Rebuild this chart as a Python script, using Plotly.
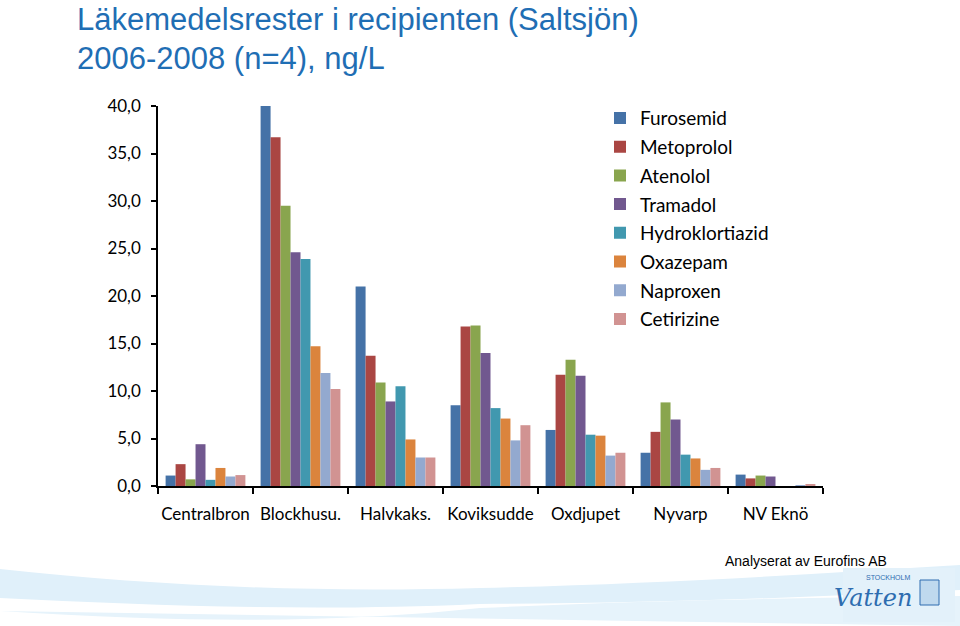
import plotly.graph_objects as go

categories = ["Centralbron", "Blockhusu.", "Halvkaks.", "Koviksudde", "Oxdjupet", "Nyvarp", "NV Eknö"]
series_names = ["Furosemid", "Metoprolol", "Atenolol", "Tramadol",
                "Hydroklortiazid", "Oxazepam", "Naproxen", "Cetirizine"]
furosemid = [1.1, 40.0, 21.0, 8.5, 5.9, 3.5, 1.2]
metoprolol = [2.3, 36.7, 13.7, 16.8, 11.7, 5.7, 0.8]
atenolol = [0.7, 29.5, 10.9, 16.9, 13.3, 8.8, 1.1]
tramadol = [4.4, 24.6, 8.9, 14.0, 11.6, 7.0, 1.0]
hydroklortiazid = [0.65, 23.9, 10.5, 8.2, 5.4, 3.3, 0.0]
oxazepam = [1.9, 14.7, 4.9, 7.1, 5.3, 2.9, 0.0]
naproxen = [1.0, 11.9, 3.0, 4.8, 3.2, 1.7, 0.1]
cetirizine = [1.15, 10.2, 3.0, 6.4, 3.5, 1.9, 0.2]
values = [furosemid, metoprolol, atenolol, tramadol, hydroklortiazid, oxazepam, naproxen, cetirizine]
colors = ["#4572A7", "#AA4643", "#89A54E", "#71588F", "#4198AF", "#DB843D", "#93A9CF", "#D19392"]
y_ticks = [0, 5, 10, 15, 20, 25, 30, 35, 40]

# page geometry (pixels) for decorations only
L, R, T, B = 158, 823, 106, 486


def px(x):
    return (x - L) / (R - L)


def py(y):
    return (B - y) / (B - T)


def path(points_cmds):
    out = []
    for cmd, pts in points_cmds:
        out.append(cmd + " " + " ".join(f"{px(x):.4f},{py(y):.4f}" for x, y in pts))
    return " ".join(out) + " Z"


fig = go.Figure()
for name, vals, col in zip(series_names, values, colors):
    fig.add_trace(go.Bar(name=name, x=categories, y=vals, marker_color=col,
                         marker_line_width=0, legendgroup=name))

band1 = path([("M", [(0, 569)]),
              ("C", [(150, 585), (300, 593), (480, 588)]),
              ("C", [(650, 584), (800, 575), (960, 565)]),
              ("L", [(960, 590)]),
              ("C", [(800, 598), (650, 603), (480, 604)]),
              ("C", [(300, 612), (150, 605), (0, 598)])])
band2 = path([("M", [(0, 611)]),
              ("C", [(200, 624), (350, 622), (480, 608)]),
              ("C", [(650, 600), (800, 598), (960, 596)]),
              ("L", [(960, 626), (0, 626)])])

fig.update_layout(
    width=960, height=626,
    margin=dict(l=L, r=960 - R, t=T, b=626 - B),
    paper_bgcolor="white", plot_bgcolor="white",
    barmode="group", bargap=0.16, bargroupgap=0,
    separators=", ",
    font=dict(family="Lato, Carlito, sans-serif", size=17, color="black"),
    legend=dict(x=px(600), y=1.018, xanchor="left", yanchor="top",
                font=dict(size=19, color="black"), traceorder="grouped",
                tracegroupgap=1, bgcolor="rgba(0,0,0,0)"),
    xaxis=dict(showline=True, linecolor="black", linewidth=1.5, ticks="outside",
               tickson="boundaries", ticklen=6, tickcolor="black", tickwidth=1.5,
               ticklabelstandoff=12, tickfont=dict(size=17), tickangle=0, showgrid=False),
    yaxis=dict(range=[0, 40], tickvals=y_ticks, tickformat=".1f", showline=True,
               linecolor="black", linewidth=1.5, ticks="outside", ticklen=5,
               tickcolor="black", tickwidth=1.5, showgrid=False, zeroline=False,
               tickfont=dict(size=17), ticklabelstandoff=7),
    shapes=[
        dict(type="path", xref="paper", yref="paper", path=band1,
             fillcolor="#E0F0FA", line_width=0, layer="below"),
        dict(type="path", xref="paper", yref="paper", path=band2,
             fillcolor="#E6F3FB", line_width=0, layer="below"),
        dict(type="rect", xref="paper", yref="paper", x0=px(843), x1=px(955),
             y0=py(568), y1=py(622), fillcolor="#E3F1FA", line_width=0, layer="below"),
        dict(type="rect", xref="paper", yref="paper", x0=px(920), x1=px(939),
             y0=py(580), y1=py(605), fillcolor="#BFD9EE",
             line=dict(color="#2E6DB0", width=1)),
    ],
    annotations=[
        dict(text="Läkemedelsrester i recipienten (Saltsjön)",
             xref="paper", yref="paper", x=px(75), y=py(19), xanchor="left", yanchor="middle",
             showarrow=False,
             font=dict(family="Liberation Sans, Arial, sans-serif", size=31, color="#1F6EB4")),
        dict(text="2006-2008 (n=4), ng/L",
             xref="paper", yref="paper", x=px(75), y=py(58), xanchor="left", yanchor="middle",
             showarrow=False,
             font=dict(family="Liberation Sans, Arial, sans-serif", size=31, color="#1F6EB4")),
        dict(text="Analyserat av Eurofins AB", xref="paper", yref="paper",
             x=px(889), y=py(561), xanchor="right", yanchor="middle", showarrow=False,
             font=dict(family="Liberation Sans, Arial, sans-serif", size=14, color="black")),
        dict(text="<i>Vatten</i>", xref="paper", yref="paper", x=px(914), y=py(598),
             xanchor="right", yanchor="middle", showarrow=False,
             font=dict(family="DejaVu Serif, serif", size=24, color="#2E6DB0")),
        dict(text="STOCKHOLM", xref="paper", yref="paper", x=px(912), y=py(577),
             xanchor="right", yanchor="middle", showarrow=False,
             font=dict(family="Liberation Sans, Arial, sans-serif", size=7, color="#2E6DB0")),
    ],
)

fig.write_html("out.html")
